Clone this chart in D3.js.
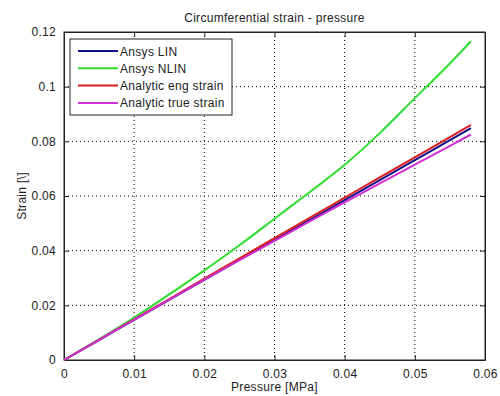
<!DOCTYPE html>
<html>
<head>
<meta charset="utf-8">
<script src="https://cdn.jsdelivr.net/npm/d3@7"></script>
<style>
  body { margin: 0; background: #fff; }
  svg { display: block; font-family: "Liberation Sans", Arial, sans-serif; }
</style>
</head>
<body>
<div id="chart"></div>
<script>
// datos
var pressure = [0, 0.005, 0.01, 0.015, 0.02, 0.025, 0.03, 0.035, 0.04, 0.045, 0.05, 0.055, 0.058];
var ansysLin = [0, 0.0073, 0.0147, 0.0220, 0.0293, 0.0366, 0.0439, 0.0512, 0.0585, 0.0658, 0.0731, 0.0804, 0.0848];
var ansysNlin = [0, 0.0076, 0.0155, 0.0240, 0.0328, 0.0420, 0.0517, 0.0614, 0.0714, 0.0830, 0.0958, 0.1085, 0.1166];
var engStrain = [0, 0.0074, 0.0149, 0.0223, 0.0298, 0.0372, 0.0446, 0.0520, 0.0594, 0.0668, 0.0741, 0.0815, 0.0860];
var trueStrain = [0, 0.0074, 0.0148, 0.0221, 0.0294, 0.0365, 0.0436, 0.0507, 0.0577, 0.0646, 0.0715, 0.0783, 0.0825];

var seriesNames = ["Ansys LIN", "Ansys NLIN", "Analytic eng strain", "Analytic true strain"];
var seriesColors = ["#10108a", "#2fdc2f", "#dc1e1e", "#d22ed2"];
var seriesValues = [ansysLin, ansysNlin, engStrain, trueStrain];

var xTicks = [0, 0.01, 0.02, 0.03, 0.04, 0.05, 0.06];
var yTicks = [0, 0.02, 0.04, 0.06, 0.08, 0.1, 0.12];

var W = 500, H = 396;
var margin = {top: 32, right: 15, bottom: 36, left: 64};
var width = W - margin.left - margin.right,
    height = H - margin.top - margin.bottom;
var fs = 12, ls = "0.3px";

var svg = d3.select("#chart").append("svg")
  .attr("width", W)
  .attr("height", H);

var g = svg.append("g")
  .attr("transform", "translate(" + margin.left + "," + margin.top + ")");

var x = d3.scaleLinear().domain([0, 0.06]).range([0, width]);
var y = d3.scaleLinear().domain([0, 0.12]).range([height, 0]);

// rejilla punteada
g.selectAll(".gx").data(xTicks.slice(1, -1)).enter().append("line")
  .attr("x1", function(d) { return x(d); })
  .attr("x2", function(d) { return x(d); })
  .attr("y1", 0).attr("y2", height)
  .attr("stroke", "#000").attr("stroke-width", 1)
  .attr("stroke-dasharray", "1,3");
g.selectAll(".gy").data(yTicks.slice(1, -1)).enter().append("line")
  .attr("y1", function(d) { return y(d); })
  .attr("y2", function(d) { return y(d); })
  .attr("x1", 0).attr("x2", width)
  .attr("stroke", "#000").attr("stroke-width", 1)
  .attr("stroke-dasharray", "1,3");

// ejes
var fmt = function(d) { return d === 0 ? "0" : d3.format("")(+d.toFixed(2)); };
g.append("g")
  .attr("transform", "translate(0," + height + ")")
  .call(d3.axisBottom(x).tickValues(xTicks).tickFormat(fmt).tickSizeInner(-5).tickSizeOuter(0).tickPadding(9));
g.append("g")
  .call(d3.axisLeft(y).tickValues(yTicks).tickFormat(fmt).tickSizeInner(-5).tickSizeOuter(0).tickPadding(8));
g.append("g")
  .call(d3.axisTop(x).tickValues(xTicks).tickFormat("").tickSizeInner(-5).tickSizeOuter(0));
g.append("g")
  .attr("transform", "translate(" + width + ",0)")
  .call(d3.axisRight(y).tickValues(yTicks).tickFormat("").tickSizeInner(-5).tickSizeOuter(0));

g.selectAll(".domain").attr("stroke", "#222");
g.selectAll(".tick line").attr("stroke", "#222");
g.selectAll(".tick text").attr("font-size", fs).attr("fill", "#222")
  .attr("letter-spacing", ls)
  .attr("font-family", "Liberation Sans, Arial, sans-serif");

// caja
g.append("rect")
  .attr("x", 0).attr("y", 0).attr("width", width).attr("height", height)
  .attr("fill", "none").attr("stroke", "#222").attr("stroke-width", 1);

// lineas
var line = d3.line()
  .x(function(d, i) { return x(pressure[i]); })
  .y(function(d) { return y(d); })
  .curve(d3.curveMonotoneX);

seriesValues.forEach(function(vals, i) {
  g.append("path")
    .datum(vals)
    .attr("d", line)
    .attr("fill", "none")
    .attr("stroke", seriesColors[i])
    .attr("stroke-width", 2);
});

// leyenda
var leg = g.append("g").attr("transform", "translate(6,7)");
leg.append("rect")
  .attr("x", 0).attr("y", 0).attr("width", 162).attr("height", 76)
  .attr("fill", "#fff").attr("stroke", "#222").attr("stroke-width", 1);
seriesNames.forEach(function(name, i) {
  var ly = 12 + i * 17.3;
  leg.append("line")
    .attr("x1", 8).attr("x2", 48).attr("y1", ly).attr("y2", ly)
    .attr("stroke", seriesColors[i]).attr("stroke-width", 2);
  leg.append("text")
    .attr("x", 50).attr("y", ly + 4.5)
    .attr("font-size", fs).attr("fill", "#222")
    .attr("letter-spacing", ls)
    .text(name);
});

// titulos
svg.append("text")
  .attr("x", margin.left + width / 2).attr("y", 22)
  .attr("text-anchor", "middle").attr("font-size", fs).attr("fill", "#222")
  .attr("letter-spacing", ls)
  .text("Circumferential strain - pressure");
svg.append("text")
  .attr("x", margin.left + width / 2).attr("y", 391)
  .attr("text-anchor", "middle").attr("font-size", fs).attr("fill", "#222")
  .attr("letter-spacing", ls)
  .text("Pressure [MPa]");
svg.append("text")
  .attr("transform", "translate(26," + (margin.top + height / 2) + ") rotate(-90)")
  .attr("text-anchor", "middle").attr("font-size", fs).attr("fill", "#222")
  .attr("letter-spacing", ls)
  .text("Strain [\\]");
</script>
</body>
</html>
